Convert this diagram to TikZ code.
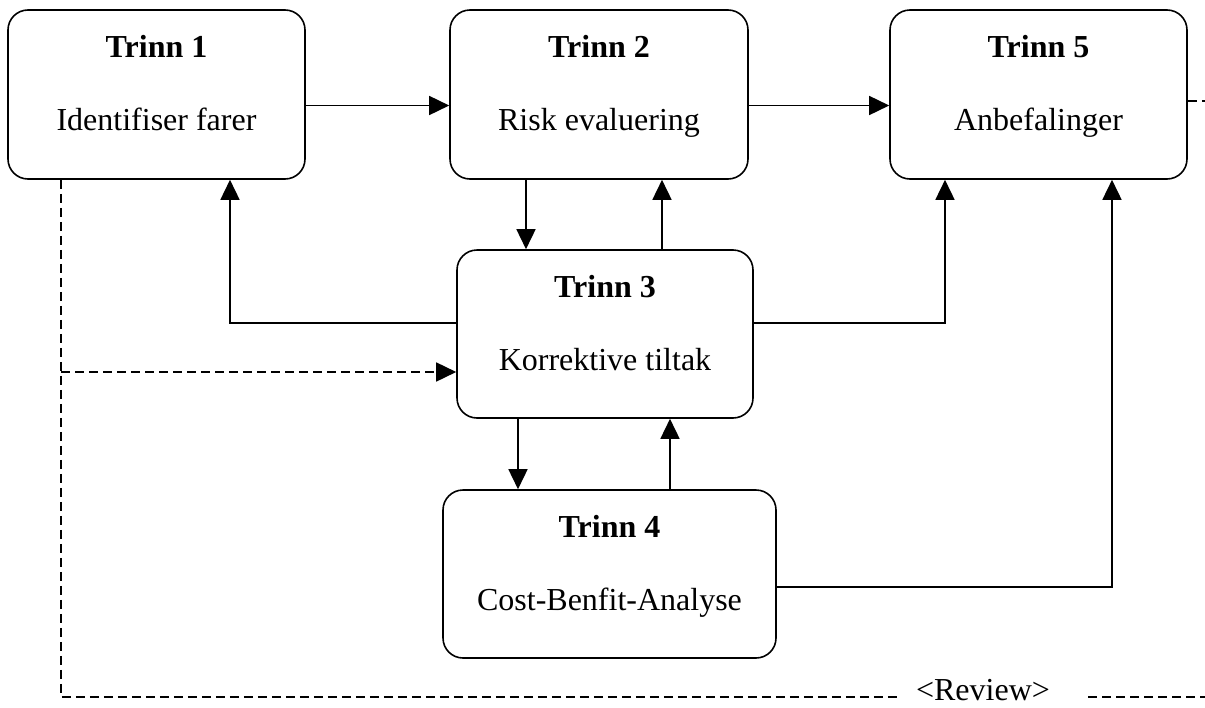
\documentclass[tikz,border=0pt]{standalone}
\usepackage{fontspec}
\setmainfont{Liberation Serif}
\usetikzlibrary{arrows.meta}
\begin{document}
\begin{tikzpicture}[x=1pt,y=-1pt, line width=1.6pt,
 box/.style={draw, rounded corners=20pt, inner sep=0pt, minimum height=169pt},
 ttl/.style={font=\fontsize{32}{38}\selectfont\bfseries, anchor=base, inner sep=0pt},
 txt/.style={font=\fontsize{32}{38}\selectfont, anchor=base, inner sep=0pt},
 arr/.style={-{Triangle[length=20pt,width=19pt]}},
 dsh/.style={dash pattern=on 9pt off 5pt}]
\useasboundingbox (0,0) rectangle (1205,707);
% boxes
\node[box, minimum width=297pt] (s1) at (156.5,94.5) {};
\node[box, minimum width=298pt] (s2) at (599,94.5) {};
\node[box, minimum width=297pt] (s5) at (1038.5,94.5) {};
\node[box, minimum width=296pt, minimum height=168pt] (s3) at (605,334) {};
\node[box, minimum width=333pt, minimum height=168pt] (s4) at (609.5,574) {};
% texts
\node[ttl] (t1) at (156.5,57) {Trinn 1};
\node[txt] (b1) at (156.5,130) {Identifiser farer};
\node[ttl] (t2) at (599,57) {Trinn 2};
\node[txt] (b2) at (599,130) {Risk evaluering};
\node[ttl] (t5) at (1038.5,57) {Trinn 5};
\node[txt] (b5) at (1038.5,130) {Anbefalinger};
\node[ttl] (t3) at (605,297) {Trinn 3};
\node[txt] (b3) at (605,370) {Korrektive tiltak};
\node[ttl] (t4) at (609.5,537) {Trinn 4};
\node[txt] (b4) at (609.5,610) {Cost-Benfit-Analyse};
\node[txt] (rv) at (983,700) {<Review>};
% solid connectors
\draw[arr] ([yshift=-11pt]s1.east) -- ([yshift=-11pt]s1.east -| s2.west);
\draw[arr] ([yshift=-11pt]s2.east) -- ([yshift=-11pt]s2.east -| s5.west);
\draw[arr] ([xshift=-73pt]s2.south) -- ([xshift=-73pt]s2.south |- s3.north);
\draw[arr] ([xshift=57pt]s3.north) -- ([xshift=57pt]s3.north |- s2.south);
\draw[arr] ([xshift=-87pt]s3.south) -- ([xshift=-87pt]s3.south |- s4.north);
\draw[arr] ([xshift=60.5pt]s4.north) -- ([xshift=60.5pt]s4.north |- s3.south);
\draw[arr] ([yshift=11pt]s3.west) -| ([xshift=73.5pt]s1.south);
\draw[arr] ([yshift=11pt]s3.east) -| ([xshift=-93.5pt]s5.south);
\draw[arr] ([yshift=-13pt]s4.east) -| ([xshift=73.5pt]s5.south);
% dashed connectors
\coordinate (c1) at (61,697);
\coordinate (c2) at (898,697);
\coordinate (c3) at (1088,697);
\coordinate (c4) at (1205,697);
\coordinate (c5) at (1205,101);
\draw[dsh] ([xshift=-95.5pt]s1.south) -- (c1) -- (c2);
\draw[dsh,arr] ([yshift=-38pt]s3.west -| c1) -- ([yshift=-38pt]s3.west);
\draw[dsh] (c3) -- (c4);
\draw[dsh] (s5.east |- c5) -- (c5);
\end{tikzpicture}
\end{document}
